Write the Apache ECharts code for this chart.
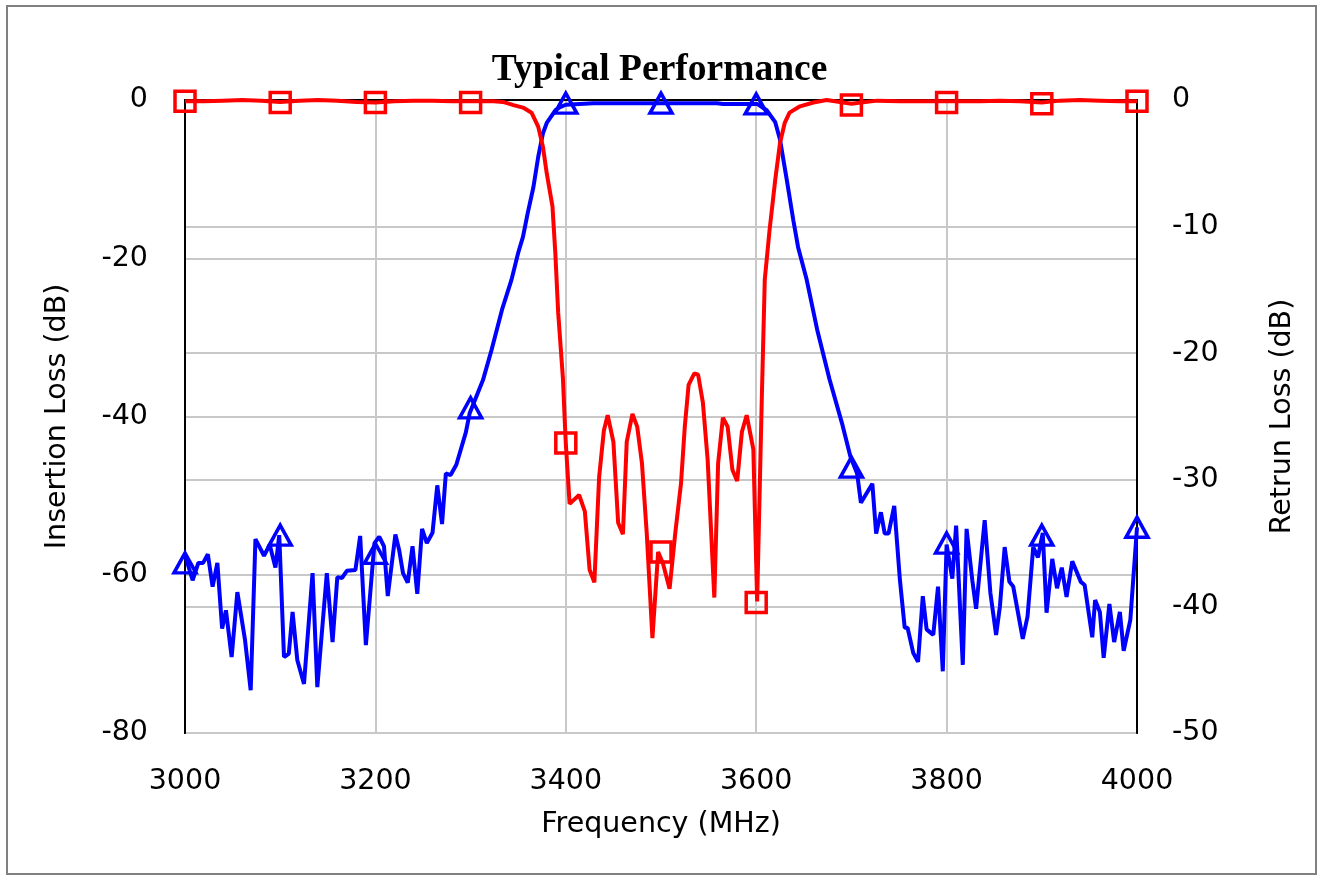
<!DOCTYPE html>
<html>
<head>
<meta charset="utf-8">
<script src="https://cdn.jsdelivr.net/npm/echarts@6/dist/echarts.min.js"></script>
<style>
  html, body { margin: 0; padding: 0; background: #fff; }
  #chart { width: 1319px; height: 878px; }
</style>
</head>
<body>
<div id="chart"></div>
<script>
// insertion loss (left axis)
const ilFreq = [3000, 3008, 3014, 3019, 3024, 3029, 3034, 3039, 3043, 3049, 3055, 3063, 3069, 3074, 3083, 3089, 3095, 3099,
  3104, 3109, 3113, 3118, 3125, 3134, 3139, 3149, 3155, 3160, 3165, 3170, 3179, 3184, 3190, 3199,
  3204, 3209, 3213, 3221, 3225, 3229, 3234, 3239, 3244, 3249, 3254, 3260, 3265, 3270, 3274, 3279, 3285, 3295, 3299,
  3313, 3322, 3333, 3343, 3350, 3355, 3360, 3366, 3371, 3376, 3380, 3389, 3394, 3400, 3429, 3559, 3565, 3601,
  3611, 3620, 3625, 3632, 3639, 3644, 3653, 3664, 3677, 3690, 3699, 3706, 3710, 3722, 3726, 3731, 3735, 3739, 3745,
  3751, 3756, 3759, 3765, 3770, 3775, 3779, 3786, 3791, 3796, 3800, 3806, 3810, 3817, 3821, 3827, 3831, 3840, 3846,
  3852, 3856, 3861, 3866, 3870, 3880, 3885, 3891, 3896, 3901, 3905, 3911, 3916, 3921, 3926, 3932, 3941, 3945, 3953,
  3956, 3961, 3965, 3971, 3976, 3982, 3986, 3993, 4000];
const ilValue = [-57.5, -60.7, -58.5, -58.5, -57.4, -61.5, -58.5, -66.8, -64.5, -70.4, -62.2, -68.2, -74.6, -55.5, -57.6, -56.2, -59.1, -55,
  -70.4, -70, -64.7, -70.8, -73.8, -59.8, -74.2, -59.8, -68.5, -60.3, -60.4, -59.5, -59.4, -55.1, -68.9, -56,
  -55.2, -56.4, -62.7, -54.9, -56.9, -59.8, -61, -56.4, -62.4, -54.2, -56, -54.7, -48.7, -53.6, -47.2, -47.4, -46.1, -42, -39.6,
  -35.4, -31.6, -26.5, -22.7, -19.3, -17.3, -14.3, -11, -7.2, -4.2, -2.9, -1.3, -0.9, -0.6, -0.4, -0.4, -0.5, -0.5,
  -1.3, -2.8, -5, -10, -15.2, -18.6, -22.7, -29, -35.3, -40.8, -45.1, -47.2, -50.9, -48.5, -54.8, -52.1, -54.8, -54.8, -51.3,
  -60.7, -66.7, -66.7, -69.9, -71, -62.7, -66.9, -67.6, -61.5, -72.2, -56.2, -60.5, -53.8, -71.4, -54.2, -60.7, -64.3, -53.1, -62.3,
  -67.6, -64, -56.5, -60.9, -61.5, -68.1, -65.3, -56.5, -57.8, -54.7, -64.8, -58, -61.7, -59.1, -62.8, -58.3, -60.9, -61.3, -67.9,
  -63.2, -64.7, -70.5, -63.7, -68.5, -64.7, -69.6, -65.7, -54];

// return loss (right axis)
const rlFreq = [3000, 3020, 3040, 3060, 3080, 3100, 3120, 3140, 3160, 3180, 3200, 3220, 3240, 3260, 3280, 3300,
  3324, 3334, 3345, 3355, 3364, 3371, 3376, 3380, 3386, 3389, 3392, 3397, 3399, 3400, 3404, 3414, 3420, 3425, 3430,
  3435, 3440, 3444, 3450, 3455, 3460, 3464, 3470, 3475, 3480, 3485, 3491, 3497, 3502, 3509, 3515, 3521, 3525, 3529,
  3535, 3539, 3544, 3549, 3556, 3560, 3565, 3570, 3575, 3580, 3585, 3590, 3597, 3601, 3606, 3609, 3614, 3620, 3625,
  3630, 3635, 3646, 3660, 3674, 3700, 3727, 3751, 3772, 3800, 3835, 3856, 3877, 3900, 3919, 3940, 3961, 3982, 4000];
const rlValue = [-0.1, -0.1, -0.05, 0, -0.05, -0.15, -0.05, 0, -0.05, -0.15, -0.2, -0.1, -0.05, -0.05, -0.1, -0.1,
  -0.1, -0.15, -0.4, -0.6, -1, -2.1, -3.7, -5.8, -8.4, -12.1, -16.8, -22, -25.5, -27.1, -31.9, -31.2, -32.5, -37.1, -38.1,
  -29.8, -26.1, -24.9, -27, -33.4, -34.3, -27, -24.8, -25.8, -28.7, -34.2, -42.5, -35.7, -36.6, -38.6, -34.2, -30.3, -25.8, -22.5,
  -21.6, -21.7, -23.9, -28.4, -39.3, -28.7, -25.1, -25.8, -29.2, -30.1, -26.2, -24.9, -27.6, -39.6, -23.2, -14.2, -10.3, -6.3, -3.4,
  -1.8, -1, -0.5, -0.2, 0, -0.3, -0.05, -0.1, -0.1, -0.1, -0.1, -0.05, -0.1, -0.2, -0.05, 0, -0.05, -0.1, -0.1];

// marker positions every 100 MHz
const markFreq = [3000, 3100, 3200, 3300, 3400, 3500, 3600, 3700, 3800, 3900, 4000];
const ilMarks = [-58.5, -55, -57.3, -38.9, -0.4, -0.4, -0.5, -46.4, -56, -55, -54];
const rlMarks = [-0.1, -0.2, -0.2, -0.2, -27.1, -35.7, -39.7, -0.4, -0.2, -0.3, -0.1];

const pairs = (xs, ys) => xs.map((x, i) => [x, ys[i]]);

const chart = echarts.init(document.getElementById('chart'));
const labelFont = { color: '#000', fontFamily: 'DejaVu Sans, Arial, sans-serif', fontSize: 28.5 };

chart.setOption({
  animation: false,
  backgroundColor: '#fff',
  title: {
    text: 'Typical Performance',
    left: 'center',
    top: 46,
    textStyle: { fontFamily: 'Liberation Serif, Times New Roman, serif', fontWeight: 'bold', fontSize: 37.5, color: '#000' }
  },
  graphic: [{
    type: 'rect',
    shape: { x: 7, y: 6, width: 1309, height: 868 },
    style: { fill: 'none', stroke: '#808080', lineWidth: 2 },
    silent: true
  }],
  grid: {
    left: 185, right: 182, top: 100, bottom: 145,
    show: true, borderColor: '#000', borderWidth: 2
  },
  xAxis: {
    type: 'value', min: 3000, max: 4000, interval: 200,
    name: 'Frequency (MHz)', nameLocation: 'middle', nameGap: 77,
    nameTextStyle: labelFont,
    axisLine: { lineStyle: { color: '#000', width: 2 } },
    axisTick: { show: false },
    axisLabel: Object.assign({ margin: 34, formatter: v => String(v) }, labelFont),
    splitLine: { lineStyle: { color: '#c8c8c8', width: 2 } }
  },
  yAxis: [{
    type: 'value', min: -80, max: 0, interval: 20,
    name: 'Insertion Loss (dB)', nameLocation: 'middle', nameGap: 113,
    nameTextStyle: labelFont,
    axisLine: { show: true, lineStyle: { color: '#000', width: 2 } },
    axisTick: { show: false },
    axisLabel: Object.assign({ margin: 37 }, labelFont),
    splitLine: { lineStyle: { color: '#c8c8c8', width: 2 } }
  }, {
    type: 'value', min: -50, max: 0, interval: 10,
    name: 'Retrun Loss (dB)', nameLocation: 'middle', nameGap: 131,
    nameTextStyle: labelFont,
    axisLine: { show: true, lineStyle: { color: '#000', width: 2 } },
    axisTick: { show: false },
    axisLabel: Object.assign({ margin: 35 }, labelFont),
    splitLine: { show: true, lineStyle: { color: '#c8c8c8', width: 2 } }
  }],
  series: [{
    name: 'Insertion Loss', type: 'line', yAxisIndex: 0,
    data: pairs(ilFreq, ilValue), showSymbol: false,
    lineStyle: { color: '#0000ff', width: 4 }
  }, {
    name: 'Return Loss', type: 'line', yAxisIndex: 1,
    data: pairs(rlFreq, rlValue), showSymbol: false,
    lineStyle: { color: '#ff0000', width: 4 }
  }, {
    type: 'scatter', yAxisIndex: 0, symbol: 'triangle', symbolSize: [22, 20],
    data: pairs(markFreq, ilMarks),
    itemStyle: { color: 'rgba(0,0,0,0)', borderColor: '#0000ff', borderWidth: 3.5, opacity: 1 }
  }, {
    type: 'scatter', yAxisIndex: 1, symbol: 'rect', symbolSize: 20,
    data: pairs(markFreq, rlMarks),
    itemStyle: { color: 'rgba(0,0,0,0)', borderColor: '#ff0000', borderWidth: 3.5, opacity: 1 }
  }]
});
</script>
</body>
</html>
